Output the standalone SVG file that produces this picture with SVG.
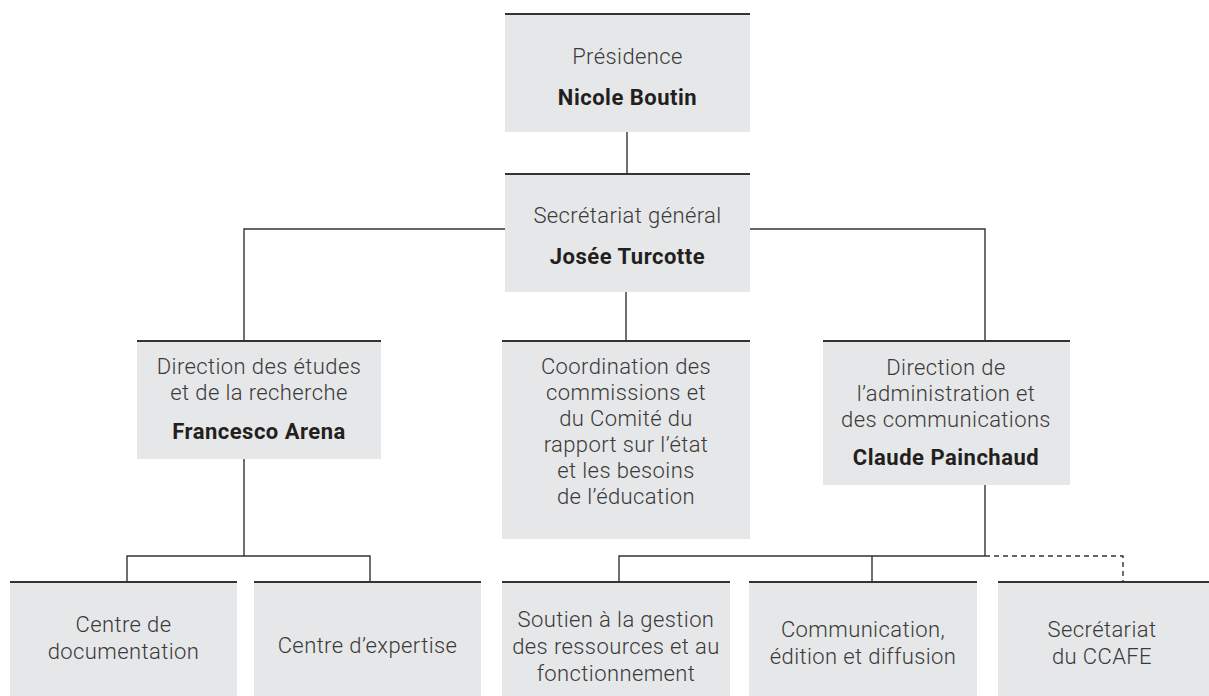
<svg xmlns="http://www.w3.org/2000/svg" width="1209" height="696" viewBox="0 0 1209 696">
<style>
.box{fill:#e6e7e8}
.top{stroke:#333;stroke-width:2}
.ln{stroke:#333;stroke-width:1.4;fill:none}
.dash{stroke:#333;stroke-width:1.4;fill:none;stroke-dasharray:5 4}
text{font-family:Roboto,"Liberation Sans",sans-serif;font-size:22px;text-anchor:middle;letter-spacing:0.4px}
.t{font-weight:300;fill:#3a3a3a}
.b{font-weight:700;fill:#231f20;letter-spacing:0.5px}
</style>
<rect width="1209" height="696" fill="#fff"/>
<g id="connectors">
<line class="ln" x1="627" y1="132" x2="627" y2="173"/>
<polyline class="ln" points="244,340 244,229 985,229 985,340"/>
<line class="ln" x1="626" y1="292" x2="626" y2="340"/>
<polyline class="ln" points="127,581 127,556 370,556 370,581"/>
<line class="ln" x1="244" y1="459" x2="244" y2="556"/>
<line class="ln" x1="985" y1="485" x2="985" y2="556"/>
<polyline class="ln" points="619,581 619,556 985,556"/>
<line class="ln" x1="872" y1="556" x2="872" y2="581"/>
<polyline class="dash" points="985,556 1123,556 1123,581"/>
</g>
<g id="presidence">
<rect class="box" x="505" y="13" width="245" height="119"/>
<line class="top" x1="505" y1="14" x2="750" y2="14"/>
<text class="t" x="627.5" y="64">Présidence</text>
<text class="b" x="627.5" y="105">Nicole Boutin</text>
</g>
<g id="secretariat-general">
<rect class="box" x="505" y="173" width="245" height="119"/>
<line class="top" x1="505" y1="174" x2="750" y2="174"/>
<text class="t" x="627.5" y="223">Secrétariat général</text>
<text class="b" x="627.5" y="264">Josée Turcotte</text>
</g>
<g id="direction-etudes">
<rect class="box" x="137" y="340" width="244" height="119"/>
<line class="top" x1="137" y1="341" x2="381" y2="341"/>
<text class="t" x="259" y="374">Direction des études</text>
<text class="t" x="259" y="400">et de la recherche</text>
<text class="b" x="259" y="439">Francesco Arena</text>
</g>
<g id="coordination">
<rect class="box" x="502" y="340" width="248" height="199"/>
<line class="top" x1="502" y1="341" x2="750" y2="341"/>
<text class="t" x="626" y="374">Coordination des</text>
<text class="t" x="626" y="400">commissions et</text>
<text class="t" x="626" y="426">du Comité du</text>
<text class="t" x="626" y="452">rapport sur l’état</text>
<text class="t" x="626" y="478">et les besoins</text>
<text class="t" x="626" y="504">de l’éducation</text>
</g>
<g id="direction-administration">
<rect class="box" x="823" y="340" width="247" height="145"/>
<line class="top" x1="823" y1="341" x2="1070" y2="341"/>
<text class="t" x="946" y="375">Direction de</text>
<text class="t" x="946" y="401">l’administration et</text>
<text class="t" x="946" y="427">des communications</text>
<text class="b" x="946" y="465">Claude Painchaud</text>
</g>
<g id="centre-documentation">
<rect class="box" x="10" y="581" width="227" height="115"/>
<line class="top" x1="10" y1="582" x2="237" y2="582"/>
<text class="t" x="123.5" y="632">Centre de</text>
<text class="t" x="123.5" y="659">documentation</text>
</g>
<g id="centre-expertise">
<rect class="box" x="254" y="581" width="227" height="115"/>
<line class="top" x1="254" y1="582" x2="481" y2="582"/>
<text class="t" x="367.5" y="653">Centre d’expertise</text>
</g>
<g id="soutien">
<rect class="box" x="502" y="581" width="228" height="115"/>
<line class="top" x1="502" y1="582" x2="730" y2="582"/>
<text class="t" x="616" y="627">Soutien à la gestion</text>
<text class="t" x="616" y="654">des ressources et au</text>
<text class="t" x="616" y="681">fonctionnement</text>
</g>
<g id="communication">
<rect class="box" x="749" y="581" width="228" height="115"/>
<line class="top" x1="749" y1="582" x2="977" y2="582"/>
<text class="t" x="863" y="637">Communication,</text>
<text class="t" x="863" y="664">édition et diffusion</text>
</g>
<g id="ccafe">
<rect class="box" x="998" y="581" width="211" height="115"/>
<line class="top" x1="998" y1="582" x2="1209" y2="582"/>
<text class="t" x="1102" y="637">Secrétariat</text>
<text class="t" x="1102" y="664">du CCAFE</text>
</g>
</svg>
